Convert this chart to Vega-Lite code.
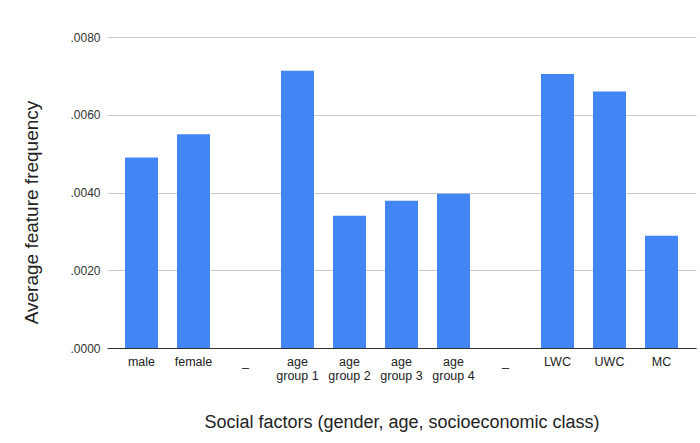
{
  "$schema": "https://vega.github.io/schema/vega-lite/v6.json",
  "width": 589,
  "height": 311,
  "autosize": {"type": "none"},
  "padding": {"left": 107, "top": 37, "right": 4, "bottom": 95},
  "background": "white",
  "config": {
    "font": "Liberation Sans",
    "view": {"stroke": null}
  },
  "data": {
    "values": [
      {"factor": "male", "freq": 0.0049},
      {"factor": "female", "freq": 0.0055},
      {"factor": "_a", "freq": 0},
      {"factor": "age|group 1", "freq": 0.00713},
      {"factor": "age|group 2", "freq": 0.0034},
      {"factor": "age|group 3", "freq": 0.00379},
      {"factor": "age|group 4", "freq": 0.00397},
      {"factor": "_b", "freq": 0},
      {"factor": "LWC", "freq": 0.00705},
      {"factor": "UWC", "freq": 0.0066},
      {"factor": "MC", "freq": 0.00289}
    ]
  },
  "mark": {"type": "bar", "color": "#4285F4"},
  "encoding": {
    "x": {
      "field": "factor",
      "type": "nominal",
      "sort": null,
      "scale": {"paddingInner": 0.365, "paddingOuter": 0.346},
      "title": "Social factors (gender, age, socioeconomic class)",
      "axis": {
        "labelAngle": 0,
        "labelExpr": "indexof(datum.label, '_') == 0 ? '_' : split(datum.label, '|')",
        "labelFont": "Liberation Sans",
        "labelFontSize": 12.5,
        "labelColor": "#222222",
        "labelPadding": 7,
        "labelLineHeight": 14,
        "ticks": false,
        "domainColor": "#333333",
        "domainWidth": 1,
        "titleFont": "Liberation Sans",
        "titleFontSize": 18,
        "titleFontWeight": "normal",
        "titleColor": "#222222",
        "titlePadding": 32
      }
    },
    "y": {
      "field": "freq",
      "type": "quantitative",
      "scale": {"domain": [0, 0.008], "nice": false},
      "title": "Average feature frequency",
      "axis": {
        "values": [0, 0.002, 0.004, 0.006, 0.008],
        "labelExpr": "replace(format(datum.value, '.4f'), '0.', '.')",
        "labelFont": "Liberation Sans",
        "labelFontSize": 12,
        "labelColor": "#333333",
        "labelPadding": 7,
        "ticks": false,
        "domain": false,
        "gridColor": "#cccccc",
        "titleFont": "Liberation Sans",
        "titleFontSize": 19,
        "titleFontWeight": "normal",
        "titleColor": "#222222",
        "titlePadding": 28,
        "titleY": 175
      }
    }
  }
}
